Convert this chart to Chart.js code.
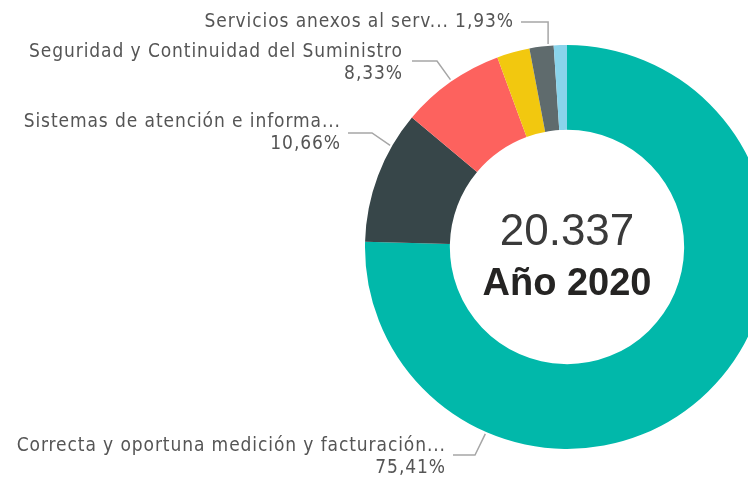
<!DOCTYPE html>
<html>
<head>
<meta charset="utf-8">
<script src="https://cdn.jsdelivr.net/npm/chart.js@4"></script>
<style>
  html, body { margin: 0; padding: 0; background: #fff; overflow: hidden; }
  .wrap { position: absolute; left: 0; top: 0; width: 800px; height: 480px; }
</style>
</head>
<body>
<div class="wrap"><canvas id="myChart" width="800" height="480"></canvas></div>
<script>
const categories = [
  "Correcta y oportuna medición y facturación...",
  "Sistemas de atención e informa...",
  "Seguridad y Continuidad del Suministro",
  "Calidad del producto",
  "Servicios anexos al serv...",
  "Otros"
];
const reclamos = [15336, 2168, 1694, 533, 392, 214];
const colores = ["#01B8AA", "#374649", "#FD625E", "#F2C80F", "#5F6B6D", "#8AD4EB"];
const periodo = "Año 2020";

const total = reclamos.reduce((a, b) => a + b, 0);

function pct(v) {
  return (v / total * 100).toFixed(2).replace(".", ",") + "%";
}
function miles(n) {
  return String(n).replace(/\B(?=(\d{3})+(?!\d))/g, ".");
}

// label boxes: which slice, right edge of text, first line y, one or two lines,
// leader start/elbow and where along the arc the leader touches
const etiquetas = [
  { i: 0, x: 445, y: 446, inline: false, sx: 453, ex: 475, ly: 455, f: 0.75 },
  { i: 1, x: 340, y: 122, inline: false, sx: 348, ex: 372, ly: 133, f: 0.74 },
  { i: 2, x: 402, y: 52, inline: false, sx: 412, ex: 437, ly: 61, f: 0.51 },
  { i: 4, x: 513, y: 22, inline: true, sx: 521, ex: null, ly: 22, f: 0.78 }
];

const labelFont = '19px "DejaVu Sans Condensed", "DejaVu Sans", sans-serif';
const spacing = 0.9;

const labelsPlugin = {
  id: "labelsPlugin",
  afterDraw(chart) {
    const ctx = chart.ctx;
    const arcs = chart.getDatasetMeta(0).data;
    ctx.save();
    ctx.font = labelFont;
    ctx.letterSpacing = spacing + "px";
    ctx.fillStyle = "#555555";
    ctx.textAlign = "right";
    ctx.textBaseline = "middle";
    etiquetas.forEach(e => {
      const arc = arcs[e.i];
      const ang = arc.startAngle + (arc.endAngle - arc.startAngle) * e.f;
      const r = arc.outerRadius + 2;
      const px = arc.x + Math.cos(ang) * r;
      const py = arc.y + Math.sin(ang) * r;
      const name = chart.data.labels[e.i];
      const p = pct(chart.data.datasets[0].data[e.i]);
      const tx = e.x + spacing;
      if (e.inline) {
        ctx.fillText(name + " " + p, tx, e.y);
      } else {
        ctx.fillText(name, tx, e.y);
        ctx.fillText(p, tx, e.y + 22);
      }
      ctx.beginPath();
      ctx.strokeStyle = "#a6a6a6";
      ctx.lineWidth = 1.5;
      ctx.moveTo(e.sx, e.ly);
      ctx.lineTo(e.ex === null ? px : e.ex, e.ly);
      ctx.lineTo(px, py);
      ctx.stroke();
    });
    ctx.restore();
  }
};

const centerPlugin = {
  id: "centerPlugin",
  afterDraw(chart) {
    const ctx = chart.ctx;
    const arc = chart.getDatasetMeta(0).data[0];
    ctx.save();
    ctx.textAlign = "center";
    ctx.textBaseline = "middle";
    ctx.fillStyle = "#3a3a3a";
    ctx.font = '44px "Liberation Sans", Arial, sans-serif';
    ctx.fillText(miles(total), arc.x, arc.y - 14);
    ctx.fillStyle = "#252423";
    ctx.font = 'bold 38px "Liberation Sans", Arial, sans-serif';
    ctx.fillText(periodo, arc.x, arc.y + 38);
    ctx.restore();
  }
};

const chart1 = document.getElementById("myChart");
var myChart = new Chart(chart1, {
  type: "doughnut",
  data: {
    labels: categories,
    datasets: [
      {
        label: "Reclamos",
        data: reclamos,
        backgroundColor: colores,
        borderWidth: 0,
      },
    ],
  },
  options: {
    responsive: false,
    animation: false,
    cutout: "58%",
    layout: {
      padding: { left: 365, top: 45, right: 31, bottom: 31 },
    },
    plugins: {
      legend: { display: false },
      tooltip: { enabled: false },
    },
  },
  plugins: [labelsPlugin, centerPlugin],
});
</script>
</body>
</html>
